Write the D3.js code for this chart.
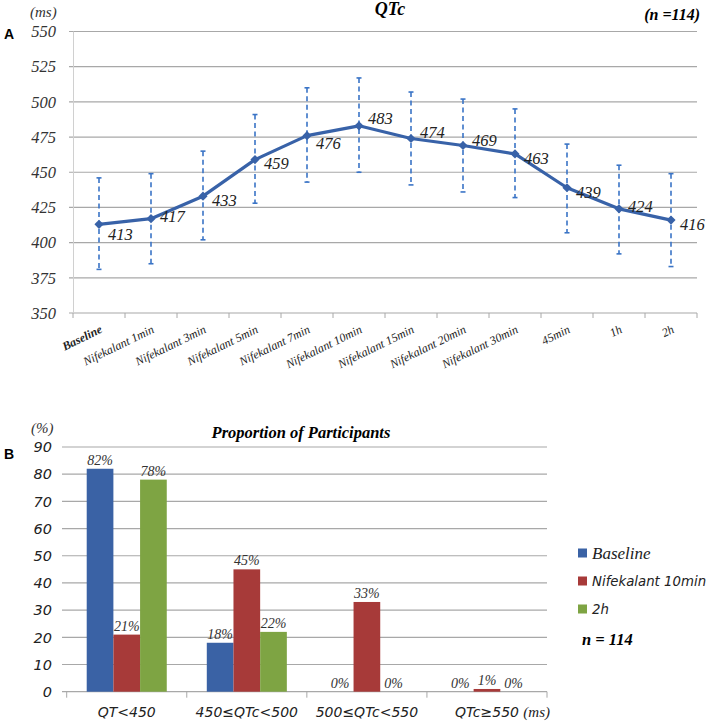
<!DOCTYPE html>
<html><head><meta charset="utf-8">
<script src="https://cdn.jsdelivr.net/npm/d3@7"></script>
<style>body{margin:0;background:#fff}svg{display:block}</style>
</head><body>
<svg id="c" width="709" height="721"></svg>
<script>
// ---------- Data ----------
const timepoints = ["Baseline","Nifekalant 1min","Nifekalant 3min","Nifekalant 5min","Nifekalant 7min","Nifekalant 10min","Nifekalant 15min","Nifekalant 20min","Nifekalant 30min","45min","1h","2h"];
const qtcMean  = [413,417,433,459,476,483,474,469,463,439,424,416];
const qtcUpper = [446,449,465,491,510,517,507,502,495,470,455,449];
const qtcLower = [381,385,402,428,443,450,441,436,432,407,392,383];
const qtcTicks = [350,375,400,425,450,475,500,525,550];

const qtcBins = ["QT<450","450≤QTc<500","500≤QTc<550","QTc≥550"];
const seriesNames = ["Baseline","Nifekalant 10min","2h"];
const baselinePct = [82,18,0,0];
const nife10Pct   = [21,45,33,1];
const twoHourPct  = [78,22,0,0];
const pctTicks = [0,10,20,30,40,50,60,70,80,90];

// ---------- Layout / style ----------
const serif = "'Liberation Serif','Times New Roman',serif";
const sans = "'DejaVu Sans',Verdana,sans-serif";
const gridCol = "#a8a8a8";
const lineCol = "#3862a8";
const errCol = "#3a74c6";
const colors = ["#3a62a5","#a73a39","#7ea443"];
const labelDy = [10,-2,4,4,8,-8,-6,-5,4,4,-3,4];

const svg = d3.select("#c");

// ================= Panel A =================
const xA = d3.scaleBand().domain(timepoints).range([73,697]);
const yA = d3.scaleLinear().domain([350,550]).range([313,31.5]);
const gA = svg.append("g");

gA.selectAll("line.grid").data(qtcTicks).join("line")
  .attr("x1",69).attr("x2",697).attr("y1",d=>yA(d)).attr("y2",d=>yA(d))
  .attr("stroke",gridCol).attr("stroke-width",1.2);
gA.append("line").attr("x1",73.5).attr("x2",73.5).attr("y1",yA(550)).attr("y2",yA(350))
  .attr("stroke","#d0d0d0").attr("stroke-width",1);
const edgesA = timepoints.map(t=>xA(t)).concat([xA.range()[1]]);
gA.selectAll("line.xt").data(edgesA).join("line")
  .attr("x1",d=>d).attr("x2",d=>d).attr("y1",yA(350)).attr("y2",yA(350)+5)
  .attr("stroke",gridCol).attr("stroke-width",1);

gA.selectAll("text.yt").data(qtcTicks).join("text")
  .attr("x",56).attr("y",d=>yA(d)).attr("dy","0.35em")
  .attr("text-anchor","end").attr("font-family",serif).attr("font-style","italic")
  .attr("font-size",16.5).attr("fill","#333").text(d=>d);

gA.selectAll("text.xl").data(timepoints).join("text")
  .attr("transform",d=>`translate(${xA(d)+xA.bandwidth()/2+4},332) rotate(-26)`)
  .attr("text-anchor","end").attr("font-family",serif).attr("font-style","italic")
  .attr("font-weight",(d,i)=>i===0?"bold":"normal")
  .attr("font-size",12).attr("fill","#222").text(d=>d);

const cx = i => xA(timepoints[i]) + xA.bandwidth()/2;

const eb = gA.append("g");
timepoints.forEach((t,i)=>{
  eb.append("line").attr("x1",cx(i)).attr("x2",cx(i))
    .attr("y1",yA(qtcUpper[i])).attr("y2",yA(qtcLower[i]))
    .attr("stroke",errCol).attr("stroke-width",1.6).attr("stroke-dasharray","5,3.5");
  [qtcUpper[i],qtcLower[i]].forEach(v=>{
    eb.append("line").attr("x1",cx(i)-2.5).attr("x2",cx(i)+2.5)
      .attr("y1",yA(v)).attr("y2",yA(v)).attr("stroke",errCol).attr("stroke-width",1.6);
  });
});

const line = d3.line().x((d,i)=>cx(i)).y(d=>yA(d));
gA.append("path").datum(qtcMean).attr("d",line)
  .attr("fill","none").attr("stroke",lineCol).attr("stroke-width",3.2).attr("stroke-linejoin","round");

gA.selectAll("path.mk").data(qtcMean).join("path")
  .attr("d",d3.symbol().type(d3.symbolSquare).size(42))
  .attr("transform",(d,i)=>`translate(${cx(i)},${yA(d)}) rotate(45)`)
  .attr("fill",lineCol);

gA.selectAll("text.vl").data(qtcMean).join("text")
  .attr("x",(d,i)=>cx(i)+9).attr("y",(d,i)=>yA(d)+labelDy[i]).attr("dy","0.35em")
  .attr("font-family",serif).attr("font-style","italic").attr("font-size",16.5)
  .attr("fill","#222").text(d=>d);

svg.append("text").attr("x",30).attr("y",17).attr("font-family",serif).attr("font-style","italic")
  .attr("font-size",15).attr("fill","#333").text("(ms)");
svg.append("text").attr("x",4).attr("y",39).attr("font-family","'Liberation Sans',Arial,sans-serif")
  .attr("font-weight","bold").attr("font-size",14).text("A");
svg.append("text").attr("x",390).attr("y",15).attr("text-anchor","middle").attr("font-family",serif)
  .attr("font-style","italic").attr("font-weight","bold").attr("font-size",18).text("QTc");
svg.append("text").attr("x",700).attr("y",20).attr("text-anchor","end").attr("font-family",serif)
  .attr("font-style","italic").attr("font-weight","bold").attr("font-size",16).text("(n =114)");

// ================= Panel B =================
const xB = d3.scaleBand().domain(qtcBins).range([66.7,547]);
const bw = xB.bandwidth();
const xS = d3.scaleBand().domain(seriesNames).range([bw/6, bw*5/6]);
const yB = d3.scaleLinear().domain([0,90]).range([691.7,447]);
const gB = svg.append("g");

gB.selectAll("line.grid").data(pctTicks).join("line")
  .attr("x1",62).attr("x2",547).attr("y1",d=>yB(d)).attr("y2",d=>yB(d))
  .attr("stroke",gridCol).attr("stroke-width",1.2);
const edgesB = qtcBins.map(c=>xB(c)).concat([xB.range()[1]]);
gB.selectAll("line.xt").data(edgesB).join("line")
  .attr("x1",d=>d).attr("x2",d=>d).attr("y1",yB(0)).attr("y2",yB(0)+6)
  .attr("stroke",gridCol).attr("stroke-width",1);

gB.selectAll("text.yt").data(pctTicks).join("text")
  .attr("x",52).attr("y",d=>yB(d)).attr("dy","0.36em").attr("text-anchor","end")
  .attr("font-family",sans).attr("font-style","italic").attr("font-size",14.5).attr("fill","#222")
  .text(d=>d);

gB.selectAll("text.xl").data(qtcBins).join("text")
  .attr("x",d=>xB(d)+bw/2).attr("y",717).attr("text-anchor","middle")
  .attr("font-family",sans).attr("font-style","italic").attr("font-size",14).attr("fill","#222")
  .text(d=>d);
svg.append("text").attr("x",550).attr("y",717).attr("text-anchor","end").attr("font-family",serif)
  .attr("font-style","italic").attr("font-size",15).attr("fill","#222").text("(ms)");

const seriesVals = [baselinePct, nife10Pct, twoHourPct];
seriesNames.forEach((s,si)=>{
  const vals = seriesVals[si];
  gB.selectAll(`rect.s${si}`).data(vals).join("rect")
    .attr("x",(d,i)=>xB(qtcBins[i])+xS(s)).attr("width",xS.bandwidth())
    .attr("y",d=>yB(d)).attr("height",d=>yB(0)-yB(d)).attr("fill",colors[si]);
  gB.selectAll(`text.s${si}`).data(vals).join("text")
    .attr("x",(d,i)=>xB(qtcBins[i])+xS(s)+xS.bandwidth()/2).attr("y",d=>yB(d)-4)
    .attr("text-anchor","middle").attr("font-family",serif).attr("font-style","italic")
    .attr("font-size",14).attr("fill","#333").text(d=>d+"%");
});

svg.append("text").attr("x",301).attr("y",438).attr("text-anchor","middle").attr("font-family",serif)
  .attr("font-style","italic").attr("font-weight","bold").attr("font-size",16.5).text("Proportion of Participants");
svg.append("text").attr("x",31).attr("y",433).attr("font-family",serif).attr("font-style","italic")
  .attr("font-size",15).attr("fill","#333").text("(%)");
svg.append("text").attr("x",4).attr("y",459).attr("font-family","'Liberation Sans',Arial,sans-serif")
  .attr("font-weight","bold").attr("font-size",14).text("B");

// legend
const legY = [553,581,609];
const leg = svg.append("g");
seriesNames.forEach((s,i)=>{
  leg.append("rect").attr("x",578).attr("y",legY[i]-4.5).attr("width",9).attr("height",9).attr("fill",colors[i]);
  leg.append("text").attr("x",592).attr("y",legY[i]).attr("dy","0.35em")
    .attr("font-family",i===0?serif:sans).attr("font-style","italic")
    .attr("font-size",i===0?17:13.3).attr("fill","#222").text(s);
});
leg.append("text").attr("x",582).attr("y",645).attr("font-family",serif).attr("font-style","italic")
  .attr("font-weight","bold").attr("font-size",16.5).text("n = 114");
</script>
</body></html>
